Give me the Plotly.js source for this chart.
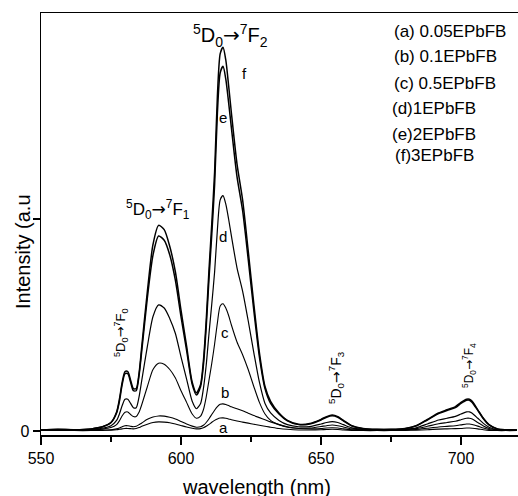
<!DOCTYPE html>
<html>
<head>
<meta charset="utf-8">
<script src="https://cdn.plot.ly/plotly-3.0.1.min.js"></script>
<style>html,body{margin:0;padding:0;background:#fff;}#chart{width:518px;height:496px;}</style>
</head>
<body>
<div id="chart"></div>
<script>
const wavelength = [550,556,562,568,572,575,577,578,579,580,581,582,583,584,585,586,588,590,592,594,596,598,600,602,604,605.5,607,608,609,610,611,612,613,614,615,616,617,618,620,622,624,626,628,630,632,635,638,642,646,650,652,654,656,658,661,665,670,675,680,684,688,692,695,698,700,702,703,704,706,708,710,713,716,720];

const seriesF = [0.005,0.008,0.006,0.01,0.02,0.04,0.09,0.15,0.23,0.28,0.28,0.24,0.2,0.2,0.27,0.4,0.66,0.88,0.97,0.95,0.87,0.75,0.57,0.4,0.23,0.18,0.22,0.33,0.52,0.76,0.98,1.22,1.58,1.78,1.81,1.75,1.63,1.5,1.26,1.09,0.85,0.6,0.37,0.21,0.14,0.085,0.05,0.032,0.035,0.055,0.068,0.075,0.068,0.05,0.025,0.012,0.008,0.008,0.012,0.025,0.055,0.085,0.1,0.115,0.135,0.15,0.15,0.14,0.1,0.06,0.03,0.01,0.006,0.005];

const seriesE = [0.005,0.007,0.006,0.01,0.02,0.04,0.085,0.14,0.22,0.27,0.27,0.23,0.19,0.19,0.26,0.38,0.63,0.83,0.92,0.9,0.83,0.71,0.54,0.38,0.22,0.17,0.21,0.31,0.49,0.72,0.93,1.16,1.5,1.69,1.72,1.66,1.55,1.43,1.2,1.04,0.81,0.57,0.35,0.2,0.13,0.08,0.048,0.03,0.033,0.052,0.065,0.072,0.065,0.048,0.024,0.011,0.007,0.007,0.011,0.024,0.052,0.082,0.097,0.11,0.13,0.145,0.145,0.135,0.097,0.058,0.029,0.01,0.006,0.005];

const seriesD = [0.004,0.005,0.005,0.007,0.013,0.025,0.05,0.08,0.12,0.15,0.15,0.13,0.11,0.11,0.16,0.24,0.4,0.54,0.595,0.58,0.53,0.46,0.35,0.245,0.14,0.105,0.13,0.2,0.31,0.46,0.6,0.75,0.95,1.09,1.11,1.07,1.0,0.92,0.77,0.66,0.52,0.37,0.23,0.13,0.085,0.05,0.03,0.02,0.021,0.033,0.04,0.044,0.04,0.03,0.015,0.008,0.005,0.005,0.008,0.015,0.033,0.052,0.06,0.069,0.08,0.09,0.09,0.084,0.06,0.036,0.018,0.006,0.004,0.004];

const seriesC = [0.003,0.004,0.004,0.005,0.009,0.016,0.03,0.048,0.072,0.088,0.09,0.078,0.068,0.068,0.088,0.125,0.21,0.29,0.32,0.315,0.29,0.25,0.19,0.135,0.08,0.06,0.07,0.1,0.16,0.24,0.32,0.41,0.51,0.59,0.6,0.58,0.545,0.5,0.42,0.36,0.29,0.21,0.135,0.08,0.05,0.03,0.018,0.013,0.014,0.021,0.025,0.028,0.025,0.019,0.01,0.005,0.004,0.004,0.006,0.011,0.022,0.034,0.04,0.046,0.053,0.06,0.06,0.056,0.04,0.024,0.012,0.005,0.003,0.003];

const seriesB = [0.002,0.003,0.003,0.003,0.004,0.006,0.01,0.014,0.02,0.025,0.025,0.022,0.02,0.022,0.03,0.038,0.055,0.066,0.071,0.07,0.065,0.057,0.045,0.033,0.023,0.018,0.02,0.027,0.04,0.058,0.078,0.098,0.115,0.126,0.128,0.125,0.12,0.114,0.105,0.095,0.084,0.073,0.063,0.053,0.043,0.03,0.02,0.012,0.01,0.012,0.014,0.015,0.014,0.01,0.006,0.004,0.003,0.003,0.004,0.007,0.013,0.019,0.022,0.025,0.029,0.033,0.033,0.031,0.023,0.014,0.007,0.003,0.002,0.002];

const seriesA = [0.002,0.002,0.002,0.002,0.003,0.004,0.006,0.008,0.01,0.012,0.012,0.011,0.01,0.012,0.016,0.022,0.032,0.04,0.043,0.042,0.039,0.033,0.026,0.019,0.013,0.01,0.011,0.015,0.022,0.031,0.041,0.05,0.057,0.061,0.062,0.06,0.057,0.053,0.047,0.042,0.037,0.032,0.027,0.022,0.018,0.012,0.008,0.005,0.005,0.006,0.007,0.008,0.007,0.005,0.003,0.002,0.002,0.002,0.003,0.004,0.006,0.009,0.01,0.011,0.012,0.014,0.014,0.013,0.01,0.006,0.003,0.002,0.002,0.002];

const seriesNames = ['(a) 0.05EPbFB','(b) 0.1EPbFB','(c) 0.5EPbFB','(d)1EPbFB','(e)2EPbFB','(f)3EPbFB'];
const seriesData = [seriesA, seriesB, seriesC, seriesD, seriesE, seriesF];
const seriesWidths = [1.1,1.1,1.1,1.2,1.5,1.5];

const xTickVals = [550,600,650,700];
const yTickVals = [0,1];
const yTickText = ['0',''];

const FONT = 'Liberation Sans, Arial, sans-serif';
const ARROW = '<span style="font-family:DejaVu Sans">→</span>';
const transition = n => '<sup>5</sup>D<sub>0</sub>' + ARROW + '<sup>7</sup>F<sub>' + n + '</sub>';

// helpers: pixel -> paper coordinates (plot area: left 41, right 518, top 13, bottom 435)
const PL = 41, PR = 518, PT = 13, PB = 435;
const px = p => (p - PL) / (PR - PL);
const py = p => (PB - p) / (PB - PT);

const traces = seriesData.map((ys, i) => ({
  type: 'scatter', mode: 'lines', name: seriesNames[i],
  x: wavelength, y: ys,
  line: {color: '#000', width: seriesWidths[i], shape: 'spline', smoothing: 0.7},
  hoverinfo: 'skip'
}));

const curveLetters = ['a','b','c','d','e','f'];
const letterPos = [[223,427],[225,392],[225,332],[223,237],[223,117],[244,73]];

const annotations = [];
curveLetters.forEach((t, i) => {
  annotations.push({xref:'paper', yref:'paper', x: px(letterPos[i][0]), y: py(letterPos[i][1]),
    text: t, showarrow:false, font:{family:FONT, size:15, color:'#000'}, xanchor:'center', yanchor:'middle'});
});

// transition labels
annotations.push({xref:'paper', yref:'paper', x:px(230), y:py(36), text:transition(2),
  showarrow:false, font:{family:FONT, size:20, color:'#000'}, xanchor:'center', yanchor:'middle'});
annotations.push({xref:'paper', yref:'paper', x:px(158), y:py(209), text:transition(1),
  showarrow:false, font:{family:FONT, size:17, color:'#000'}, xanchor:'center', yanchor:'middle'});
annotations.push({xref:'paper', yref:'paper', x:px(121), y:py(333), text:transition(0), textangle:-90,
  showarrow:false, font:{family:FONT, size:13, color:'#000'}, xanchor:'center', yanchor:'middle'});
annotations.push({xref:'paper', yref:'paper', x:px(336), y:py(378), text:transition(3), textangle:-90,
  showarrow:false, font:{family:FONT, size:14, color:'#000'}, xanchor:'center', yanchor:'middle'});
annotations.push({xref:'paper', yref:'paper', x:px(469), y:py(366), text:transition(4), textangle:-90,
  showarrow:false, font:{family:FONT, size:12, color:'#000'}, xanchor:'center', yanchor:'middle'});

// legend text block
const legendPos = [[392,32],[392,57],[392,83],[390,108],[390,134],[393,155]];
seriesNames.forEach((t, i) => {
  annotations.push({xref:'paper', yref:'paper', x:px(legendPos[i][0]), y:py(legendPos[i][1]), text:t,
    showarrow:false, font:{family:FONT, size:17, color:'#000'}, xanchor:'left', yanchor:'middle'});
});

// axis titles
annotations.push({xref:'paper', yref:'paper', x:px(23), y:py(252), text:'Intensity (a.u', textangle:-90,
  showarrow:false, font:{family:FONT, size:20, color:'#000'}, xanchor:'center', yanchor:'middle'});
annotations.push({xref:'paper', yref:'paper', x:px(256), y:py(487), text:'wavelength (nm)',
  showarrow:false, font:{family:FONT, size:20, color:'#000'}, xanchor:'center', yanchor:'middle'});

const layout = {
  width: 518, height: 496,
  margin: {l: PL, r: 0, t: PT, b: 496 - PB, pad: 0},
  paper_bgcolor: '#fff', plot_bgcolor: '#fff',
  showlegend: false,
  font: {family: FONT, color: '#000'},
  xaxis: {
    range: [550, 720.36], tickmode: 'array', tickvals: xTickVals,
    ticks: 'outside', ticklen: 8, tickwidth: 1.2, tickcolor: '#000',
    showline: true, linecolor: '#000', linewidth: 1.5, mirror: true,
    showgrid: false, zeroline: false,
    tickfont: {family: FONT, size: 16, color: '#000'},
    minor: {tickmode: 'linear', tick0: 550, dtick: 25, ticks: 'outside', ticklen: 5, tickwidth: 1.2, tickcolor: '#000', showgrid: false}
  },
  yaxis: {
    range: [-0.0189, 1.9717], tickmode: 'array', tickvals: yTickVals, ticktext: yTickText,
    ticks: 'outside', ticklen: 7, tickwidth: 1.2, tickcolor: '#000',
    showline: true, linecolor: '#000', linewidth: 1.5, mirror: false,
    showgrid: false, zeroline: false,
    tickfont: {family: FONT, size: 16, color: '#000'}
  },
  annotations: annotations
};

Plotly.newPlot('chart', traces, layout, {staticPlot: true, displayModeBar: false});
</script>
</body>
</html>
